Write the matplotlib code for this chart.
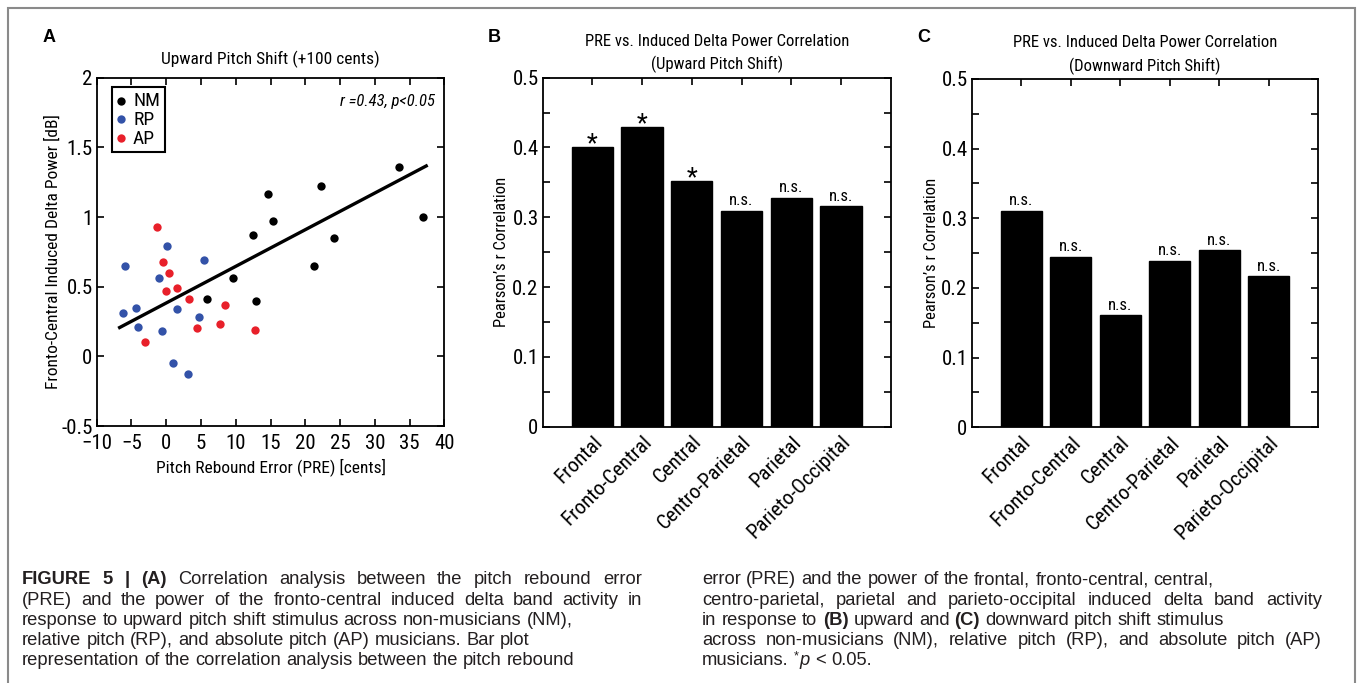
import numpy as np
import matplotlib
matplotlib.use("Agg")
import matplotlib.pyplot as plt
from matplotlib import font_manager
from matplotlib.patches import Rectangle
from matplotlib.ticker import FuncFormatter, MultipleLocator

# ---- data ----
nm_x = [33.5, 37.0, 22.2, 14.7, 15.3, 12.5, 24.1, 21.3, 9.6, 5.9, 12.9]
nm_y = [1.36, 1.00, 1.22, 1.165, 0.97, 0.87, 0.85, 0.65, 0.565, 0.41, 0.40]
rp_x = [-6.0, -6.2, -4.3, -4.0, -0.6, -1.0, 0.1, 1.5, 5.5, 4.7, 1.0, 3.2]
rp_y = [0.65, 0.31, 0.35, 0.21, 0.18, 0.56, 0.79, 0.34, 0.69, 0.285, -0.05, -0.127]
ap_x = [-1.3, -0.5, 0.45, 1.55, 0.0, 3.3, 8.5, 4.4, 7.8, 12.8, -3.05]
ap_y = [0.93, 0.675, 0.60, 0.49, 0.47, 0.41, 0.37, 0.205, 0.23, 0.19, 0.105]
# regression line as drawn in the figure
fit_slope = 0.0263
fit_intercept = 0.383
fit_x = [-6.7, 37.4]

regions = ["Frontal", "Fronto-Central", "Central", "Centro-Parietal",
           "Parietal", "Parieto-Occipital"]
r_up = [0.401, 0.430, 0.352, 0.309, 0.328, 0.316]
sig_up = [True, True, True, False, False, False]
r_down = [0.311, 0.245, 0.161, 0.239, 0.254, 0.217]
sig_down = [False, False, False, False, False, False]

caption_left = [
    "!FIGURE !5 !| !(A) Correlation analysis between the pitch rebound error",
    "(PRE) and the power of the fronto-central induced delta band activity in",
    "response to upward pitch shift stimulus across non-musicians (NM),",
    "relative pitch (RP), and absolute pitch (AP) musicians. Bar plot",
    "representation of the correlation analysis between the pitch rebound",
]
justify_left = [True, True, False, False, False]
caption_right = [
    "error (PRE) and the power of the frontal, fronto-central, central,",
    "centro-parietal, parietal and parieto-occipital induced delta band activity",
    "in response to !(B) upward and !(C) downward pitch shift stimulus",
    "across non-musicians (NM), relative pitch (RP), and absolute pitch (AP)",
    "musicians. ~p < 0.05.",
]
justify_right = [False, True, False, True, False]

# ---- fonts ----
installed = {f.name for f in font_manager.fontManager.ttflist}
def pick(*names):
    for n in names:
        if n in installed:
            return n
    return "DejaVu Sans"
PANEL_FONT = pick("Liberation Sans Narrow", "Roboto Condensed", "Liberation Sans")
CAP_FONT = pick("Liberation Sans", "Arial", "DejaVu Sans")
plt.rcParams["font.family"] = PANEL_FONT
plt.rcParams["axes.linewidth"] = 1.3

W, H = 1357, 683
fig = plt.figure(figsize=(W / 100, H / 100), dpi=100)

def axes_px(left, top, right, bottom):
    return fig.add_axes([left / W, 1 - bottom / H, (right - left) / W, (bottom - top) / H])

# gray frame around the figure
fig.patches.append(Rectangle((8 / W, -0.2), (1355 - 8) / W, 1.2 - 8 / H,
                             transform=fig.transFigure, fill=False,
                             edgecolor="#8a8a8a", lw=1.5))

fmt = FuncFormatter(lambda v, p: "%g" % round(v, 3))

# ---- panel A ----
ax = axes_px(96.7, 77.7, 444.3, 426)
ax.scatter(nm_x, nm_y, s=36, color="black", label="NM", zorder=3, linewidths=0)
ax.scatter(rp_x, rp_y, s=36, color="#3352a8", label="RP", zorder=3, linewidths=0)
ax.scatter(ap_x, ap_y, s=36, color="#e8202a", label="AP", zorder=3, linewidths=0)
fx = np.array(fit_x)
ax.plot(fx, fit_slope * fx + fit_intercept, color="black", lw=2.4, zorder=2)
ax.set_xlim(-10, 40)
ax.set_ylim(-0.5, 2)
ax.set_xticks(np.arange(-10, 41, 5))
ax.set_yticks(np.arange(-0.5, 2.01, 0.5))
ax.yaxis.set_major_formatter(fmt)
ax.tick_params(direction="in", top=True, right=True, length=5, width=1.2,
               labelsize=15, pad=3)
ax.tick_params(axis="x", pad=6)
leg = ax.legend(loc="upper left", bbox_to_anchor=(0.043, 0.974), borderaxespad=0,
                fontsize=14, handlelength=0.5, handletextpad=0.35, labelspacing=0.05,
                borderpad=0.25, fancybox=False, framealpha=1, scatterpoints=1)
leg.get_frame().set_edgecolor("black")
leg.get_frame().set_linewidth(1.5)
ax.text(0.973, 0.933, "r =0.43, p<0.05", transform=ax.transAxes, ha="right",
        va="center", style="italic", fontsize=12)
ax.set_title("Upward Pitch Shift (+100 cents)", fontsize=12.5, pad=10)
ax.set_xlabel("Pitch Rebound Error (PRE) [cents]", fontsize=12.5, va="center")
ax.xaxis.set_label_coords(0.5, -0.118)
ax.set_ylabel("Fronto-Central Induced Delta Power [dB]", fontsize=12.5, va="center")
ax.yaxis.set_label_coords(-0.126, 0.5)

# ---- panels B and C ----
def bar_panel(ax, vals, sig, title):
    pos = np.arange(1, len(vals) + 1)
    ax.bar(pos, vals, width=0.83, color="black", edgecolor="black")
    for x, v, s in zip(pos, vals, sig):
        if s:
            ax.text(x, v - 0.006, "*", ha="center", va="baseline", fontsize=18)
        else:
            ax.text(x, v + 0.008, "n.s.", ha="center", va="baseline", fontsize=12)
    ax.set_xlim(0, len(vals) + 1)
    ax.set_ylim(0, 0.5)
    ax.set_xticks(pos)
    ax.set_xticklabels(regions, rotation=45, ha="right", rotation_mode="anchor",
                       fontsize=11.5)
    ax.yaxis.set_major_locator(MultipleLocator(0.1))
    ax.yaxis.set_minor_locator(MultipleLocator(0.05))
    ax.yaxis.set_major_formatter(fmt)
    ax.tick_params(direction="in", top=True, right=True, length=5, width=1.2,
                   labelsize=15, pad=3)
    ax.tick_params(axis="x", pad=4)
    ax.tick_params(which="minor", direction="in", right=True, length=5, width=1.2)
    ax.set_title(title, fontsize=12, pad=6, linespacing=1.55)
    ax.set_ylabel("Pearson\u2019s r Correlation", fontsize=12, va="center")
    ax.yaxis.set_label_coords(-0.117, 0.5)

axb = axes_px(542.7, 77.7, 890.7, 426.7)
bar_panel(axb, r_up, sig_up, "PRE vs. Induced Delta Power Correlation\n(Upward Pitch Shift)")
axc = axes_px(971.7, 79, 1318.3, 427.3)
bar_panel(axc, r_down, sig_down, "PRE vs. Induced Delta Power Correlation\n(Downward Pitch Shift)")

for lab, xp in [("A", 43), ("B", 488), ("C", 917)]:
    fig.text(xp / W, 1 - 38 / H, lab, fontsize=13, fontweight="bold",
             family=CAP_FONT, va="center", ha="left")

# ---- caption, two columns ----
renderer = fig.canvas.get_renderer()
CAP_SIZE = 13.2
CAP_COLOR = "#231f20"

def make_word(word, x, y):
    kw = dict(fontsize=CAP_SIZE, family=CAP_FONT, va="center", color=CAP_COLOR)
    if word.startswith("!"):
        return [fig.text(x, y, word[1:], fontweight="bold", **kw)]
    if word.startswith("~"):
        t1 = fig.text(x, y + 4 / H, "*", fontsize=CAP_SIZE * 0.7, family=CAP_FONT,
                      va="center", color=CAP_COLOR)
        w1 = t1.get_window_extent(renderer).width
        t2 = fig.text(x + (w1 + 1) / W, y, word[1:], style="italic", **kw)
        return [t1, t2]
    return [fig.text(x, y, word, **kw)]

def width_of(pieces):
    bbs = [p.get_window_extent(renderer) for p in pieces]
    return max(b.x1 for b in bbs) - min(b.x0 for b in bbs)

probe = fig.text(0, 0, "x x", fontsize=CAP_SIZE, family=CAP_FONT)
probe2 = fig.text(0, 0, "xx", fontsize=CAP_SIZE, family=CAP_FONT)
space_w = probe.get_window_extent(renderer).width - probe2.get_window_extent(renderer).width
probe.remove()
probe2.remove()

def caption_column(lines, justify, x0, x1, y_top, step):
    colw = x1 - x0
    for i, (line, just) in enumerate(zip(lines, justify)):
        y = 1 - (y_top + i * step) / H
        words = [make_word(w, 0, y) for w in line.split(" ")]
        widths = [width_of(p) for p in words]
        gap = space_w
        if just and len(words) > 1:
            gap = max(space_w, (colw - sum(widths)) / (len(words) - 1))
        x = x0
        for pieces, w in zip(words, widths):
            for p in pieces:
                px, py = p.get_position()
                p.set_position((px + x / W, py))
            x += w + gap

caption_column(caption_left, justify_left, 22, 642, 580, 20.2)
caption_column(caption_right, justify_right, 702, 1322, 580, 20.2)

fig.savefig("out.png", dpi=100)
